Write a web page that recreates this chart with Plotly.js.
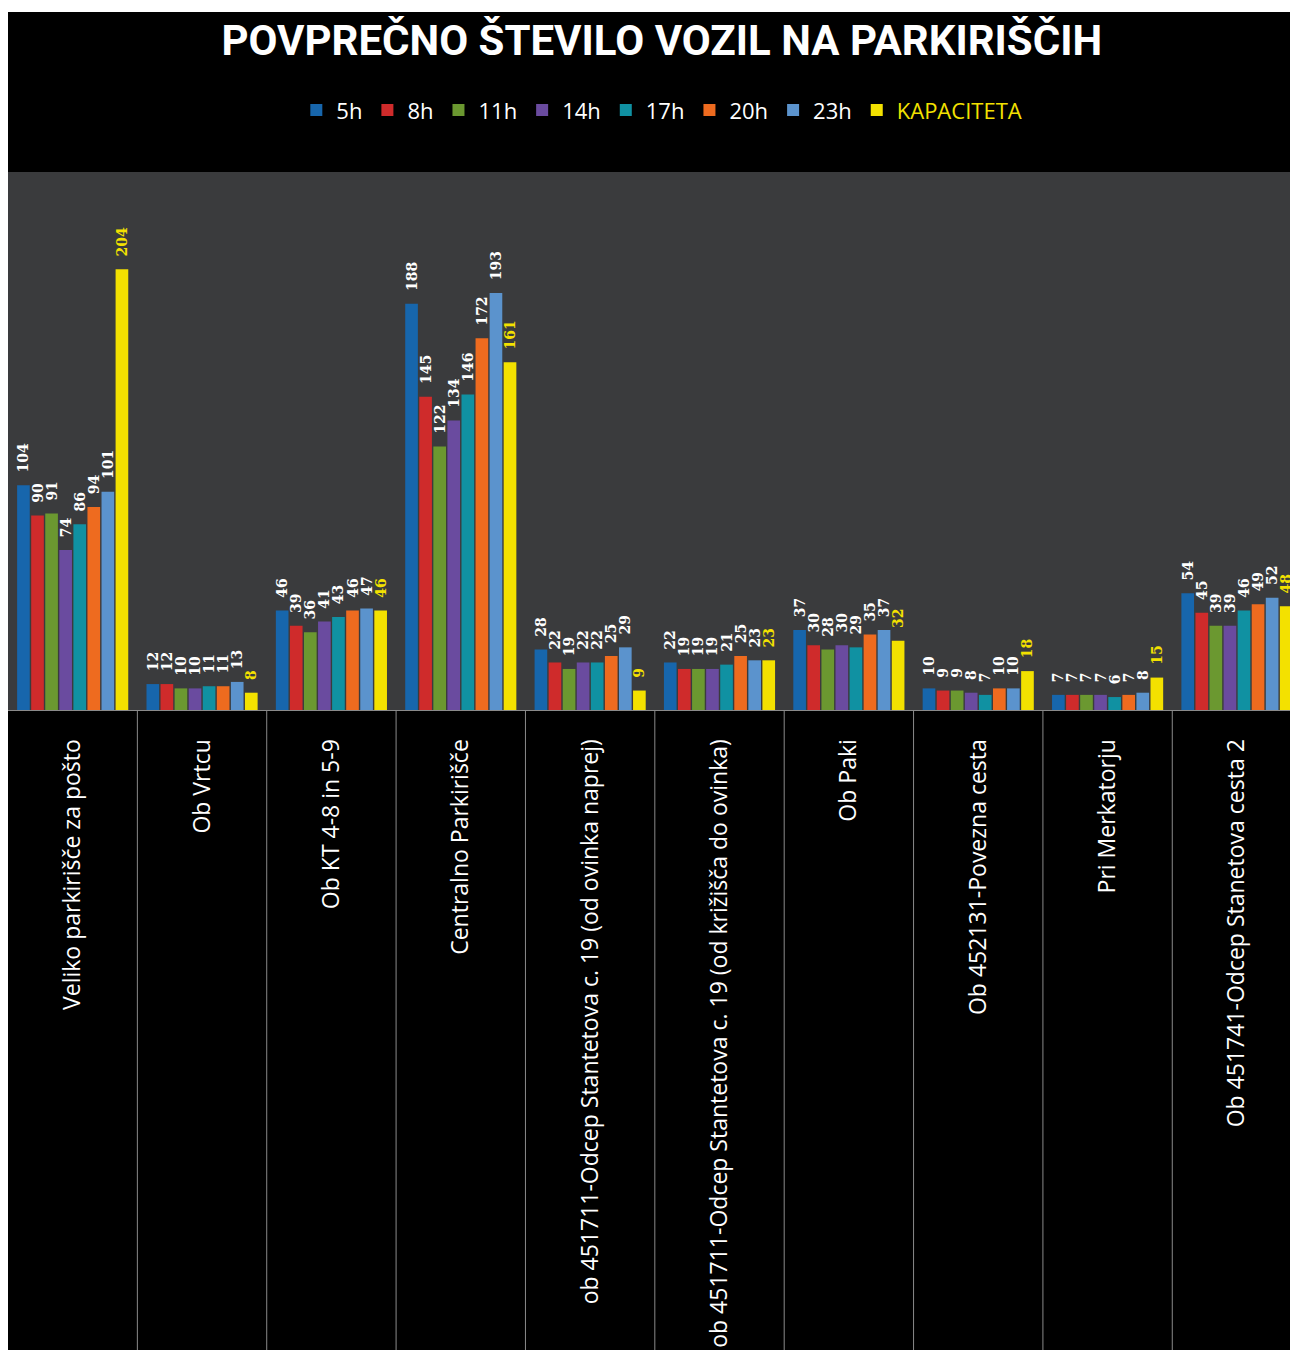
<!DOCTYPE html>
<html>
<head>
<meta charset="utf-8">
<script src="https://cdn.plot.ly/plotly-3.0.1.min.js"></script>
<style>
  html, body { margin: 0; padding: 0; background: #ffffff; width: 1290px; height: 1350px; overflow: hidden; }
  #chart { position: absolute; left: 8px; top: 12px; width: 1282px; height: 1338px; }
</style>
</head>
<body>
<div id="chart"></div>
<script>
const categories = [
  "Veliko parkirišče za pošto",
  "Ob Vrtcu",
  "Ob KT 4-8 in 5-9",
  "Centralno Parkirišče",
  "ob 451711-Odcep Stantetova c. 19 (od ovinka naprej)",
  "ob 451711-Odcep Stantetova c. 19 (od križišča do ovinka)",
  "Ob Paki",
  "Ob 452131-Povezna cesta",
  "Pri Merkatorju",
  "Ob 451741-Odcep Stanetova cesta 2"
];
const seriesNames = ["5h", "8h", "11h", "14h", "17h", "20h", "23h", "KAPACITETA"];
const v5h  = [104, 12, 46, 188, 28, 22, 37, 10, 7, 54];
const v8h  = [90, 12, 39, 145, 22, 19, 30, 9, 7, 45];
const v11h = [91, 10, 36, 122, 19, 19, 28, 9, 7, 39];
const v14h = [74, 10, 41, 134, 22, 19, 30, 8, 7, 39];
const v17h = [86, 11, 43, 146, 22, 21, 29, 7, 6, 46];
const v20h = [94, 11, 46, 172, 25, 25, 35, 10, 7, 49];
const v23h = [101, 13, 47, 193, 29, 23, 37, 10, 8, 52];
const kapaciteta = [204, 8, 46, 161, 9, 23, 32, 18, 15, 48];

const seriesValues = [v5h, v8h, v11h, v14h, v17h, v20h, v23h, kapaciteta];
const colors = ["#1766ac", "#cf2b2b", "#6b9830", "#6a4b9f", "#1091a2", "#ee6b1f", "#5b93cd", "#f3e100"];
const yellow = "#f3e100";
const labelPad = "\u00A0\u00A0";

const traces = seriesValues.map((vals, i) => {
  const isKap = i === 7;
  return {
    type: "bar",
    name: isKap ? '<span style="color:' + yellow + '">' + seriesNames[i] + '</span>' : seriesNames[i],
    x: categories,
    y: vals,
    marker: { color: colors[i], line: { width: 0 } },
    text: vals.map(v => labelPad + String(v)),
    textposition: "outside",
    textangle: -90,
    constraintext: "none",
    cliponaxis: false,
    textfont: { family: "DejaVu Serif", size: 14, color: isKap ? yellow : "#ffffff", weight: "bold" },
    hoverinfo: "x+y+name"
  };
});

const shapes = [];
for (let i = 0; i < categories.length; i++) {
  shapes.push({
    type: "line", xref: "x", yref: "paper",
    x0: i + 0.5, x1: i + 0.5, y0: 0, y1: -1.2,
    line: { color: "#8a8a8a", width: 1 }
  });
}

const layout = {
  width: 1282,
  height: 1338,
  paper_bgcolor: "#000000",
  plot_bgcolor: "#3a3b3d",
  margin: { l: 0, r: 0, t: 160, b: 640 },
  barmode: "group",
  bargap: 0.13,
  bargroupgap: 0.1,
  showlegend: true,
  title: {
    text: "<b>POVPREČNO ŠTEVILO VOZIL NA PARKIRIŠČIH</b>",
    font: { family: "Liberation Sans Narrow, Roboto, Open Sans", size: 42, color: "#ffffff" },
    x: 0.51, xanchor: "center",
    y: 1 - 28 / 1338, yanchor: "middle", yref: "container"
  },
  legend: {
    orientation: "h",
    x: 0.51, xanchor: "center",
    y: 1.115, yanchor: "middle",
    font: { family: "Open Sans", size: 22, color: "#ffffff" },
    bgcolor: "rgba(0,0,0,0)",
    traceorder: "normal"
  },
  xaxis: {
    type: "category",
    range: [-0.5, 9.41],
    showgrid: false,
    zeroline: false,
    showline: true,
    linecolor: "#8a8a8a",
    linewidth: 1,
    ticks: "",
    tickangle: -90,
    ticklabelstandoff: 19,
    tickfont: { family: "Open Sans", size: 23, color: "#ffffff" },
    fixedrange: true
  },
  yaxis: {
    range: [0, 249],
    showgrid: false,
    zeroline: false,
    showline: false,
    showticklabels: false,
    ticks: "",
    fixedrange: true
  },
  shapes: shapes
};

Plotly.newPlot("chart", traces, layout, { displayModeBar: false, staticPlot: true });
</script>
</body>
</html>
